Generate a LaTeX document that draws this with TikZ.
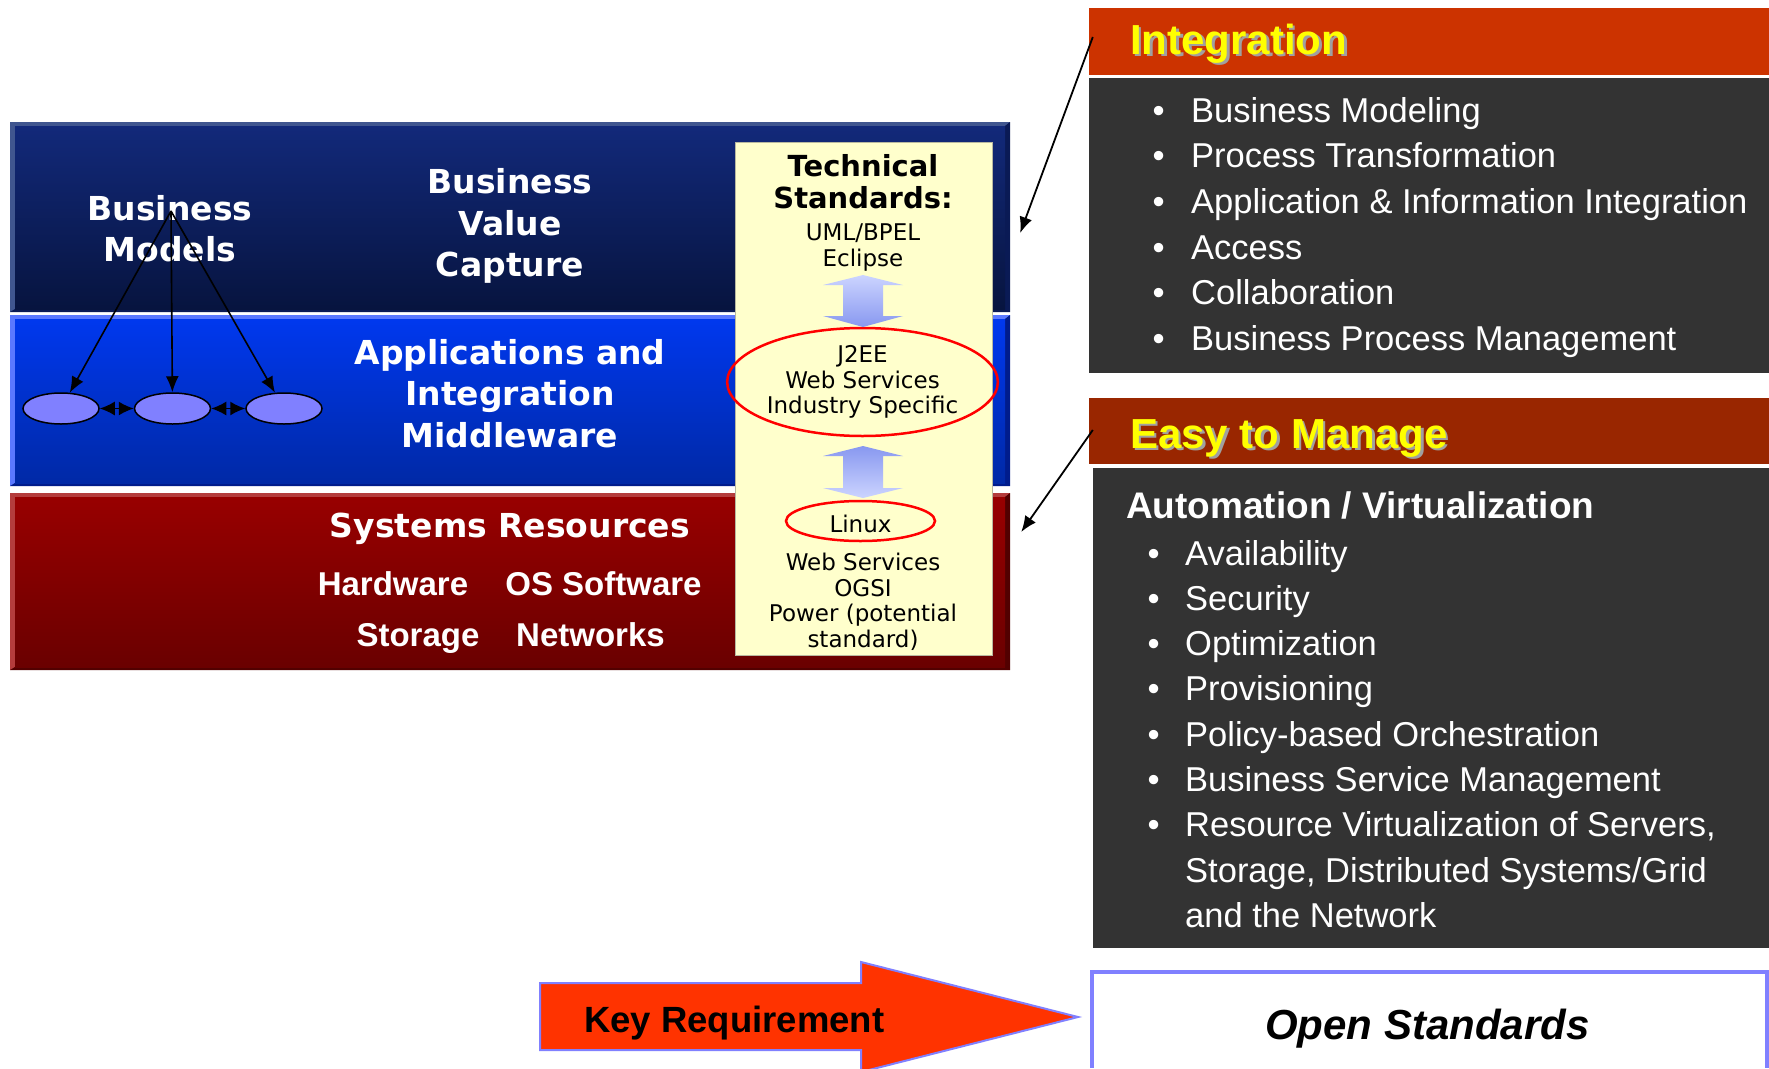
\documentclass[tikz,border=0pt]{standalone}
\usepackage{fontspec}
\setmainfont{Liberation Sans}
\newfontfamily\vfont{DejaVu Sans}
\usetikzlibrary{arrows.meta,positioning,shapes.geometric}

\definecolor{biztop}{HTML}{12297A}
\definecolor{bizbot}{HTML}{07143F}
\definecolor{bizlight}{HTML}{40568F}
\definecolor{bizdark}{HTML}{0A1A55}
\definecolor{apptop}{HTML}{0038EE}
\definecolor{appbot}{HTML}{0029A6}
\definecolor{applight}{HTML}{5A78FF}
\definecolor{appdark}{HTML}{001C8C}
\definecolor{systop}{HTML}{980000}
\definecolor{sysbot}{HTML}{6A0000}
\definecolor{syslight}{HTML}{B43C3C}
\definecolor{sysdark}{HTML}{520000}
\definecolor{techyellow}{HTML}{FFFFCC}
\definecolor{techedge}{HTML}{B8B8A0}
\definecolor{ringred}{HTML}{FF0000}
\definecolor{arrowlight}{HTML}{CCD4FF}
\definecolor{arrowdark}{HTML}{8898F0}
\definecolor{modelblue}{HTML}{8080FF}
\definecolor{inthead}{HTML}{CC3300}
\definecolor{mgmthead}{HTML}{992600}
\definecolor{panelgrey}{HTML}{333333}
\definecolor{titleyellow}{HTML}{FFFF00}
\definecolor{shadowgrey}{HTML}{A0A0A0}
\definecolor{keyorange}{HTML}{FF3300}
\definecolor{keyedge}{HTML}{8080FF}

\begin{document}
\begin{tikzpicture}[x=1pt,y=-1pt,>={Latex[length=16pt,width=13pt]},
  band/.style={inner sep=0pt,minimum width=990pt},
  bandtext/.style={text=white,inner sep=0pt,align=center,anchor=base,font=\vfont\bfseries\fontsize{33}{41.5}\selectfont},
  hwtext/.style={text=white,inner sep=0pt,anchor=base,font=\bfseries\fontsize{33}{40}\selectfont},
  model/.style={ellipse,draw=black,line width=1.5pt,fill=modelblue,minimum width=76pt,minimum height=31pt,inner sep=0pt},
  link/.style={->,line width=1.6pt},
  biarrow/.style={{Latex[length=15pt,width=14pt]}-{Latex[length=15pt,width=14pt]},line width=1.5pt},
  techtext/.style={inner sep=0pt,align=center,anchor=base,font=\vfont\fontsize{23}{25.5}\selectfont},
  ring/.style={ellipse,draw=ringred,line width=2.5pt,inner sep=0pt,font=\vfont\fontsize{23}{25.5}\selectfont,align=center},
  panel/.style={inner sep=0pt,minimum width=680pt},
  headtext/.style={inner sep=0pt,anchor=base west,font=\bfseries\fontsize{42}{50}\selectfont},
  itemlist/.style={inner sep=0pt,anchor=base west,align=left,text=white,font=\fontsize{34.5}{45.7}\selectfont},
  callout/.style={->,line width=1.8pt}]

  \path[use as bounding box,fill=white] (0,0) rectangle (1769,1068);

  % the three layers on the left
  \fill[bizlight] (10,122) rectangle (1010,312);
  \fill[bizdark] (1010,122) -- (1010,312) -- (10,312) -- (15,309) -- (1005,309) -- (1005,126) -- cycle;
  \node[band,minimum height=183pt,top color=biztop,bottom color=bizbot] (bizband) at (510,217.5) {};

  \fill[applight] (10,315) rectangle (1010,486);
  \fill[appdark] (1010,315) -- (1010,486) -- (10,486) -- (15,483) -- (1005,483) -- (1005,319) -- cycle;
  \node[band,minimum height=164pt,top color=apptop,bottom color=appbot] (appband) at (510,401) {};

  \fill[syslight] (10,493) rectangle (1010,670);
  \fill[sysdark] (1010,493) -- (1010,670) -- (10,670) -- (15,667) -- (1005,667) -- (1005,497) -- cycle;
  \node[band,minimum height=170pt,top color=systop,bottom color=sysbot] (sysband) at (510,582) {};

  % base of a multi-line node = its last line
  \node[bandtext] (bmtext) at (170,261.7) {Business\\Models};
  \node[bandtext] (bvtext) at (510,276.7) {Business\\Value\\Capture};
  \node[bandtext] (apptext) at (510,447.3) {Applications and\\Integration\\Middleware};
  \node[bandtext] (systext) at (510,537) {Systems Resources};
  \node[hwtext] (hwtext) at (393,595) {Hardware};
  \node[hwtext] (ostext) at (603.5,595) {OS Software};
  \node[hwtext] (sttext) at (418,646) {Storage};
  \node[hwtext] (nwtext) at (590.5,646) {Networks};

  % business models
  \node[model] (e1) at (61,408.5) {};
  \node[model] (e2) [right=34pt of e1] {};
  \node[model] (e3) [right=34pt of e2] {};
  \coordinate (bmtop) at (171,211);
  \draw[link] (bmtop) -- (e1);
  \draw[link] (bmtop) -- (e2);
  \draw[link] (bmtop) -- (e3);
  \draw[biarrow] (e1) -- (e2);
  \draw[biarrow] (e2) -- (e3);

  % technical standards
  \node[fill=techyellow,draw=techedge,line width=1pt,minimum width=257pt,minimum height=513pt,inner sep=0pt] (techbox) at (863.5,398.5) {};
  \node[techtext,font=\vfont\bfseries\fontsize{29}{32}\selectfont] (techtitle) at (863,208.5) {Technical\\Standards:};
  \node[techtext] (techtop) at (863,266) {UML/BPEL\\Eclipse};
  \node[ring,minimum width=249pt,minimum height=108pt] (j2ee) at (862.5,382) {J2EE\\Web Services\\Industry Specific};
  \node[ring,minimum width=149pt,minimum height=40pt,text height=22pt,text depth=0pt] (linux) at (860.5,521) {Linux};
  \node[techtext] (techlow) at (863,647) {Web Services\\OGSI\\Power (potential\\standard)};
  \shade[top color=arrowlight,bottom color=arrowdark] (863,275) -- (903,285) -- (883,285) -- (883,316) -- (903,316)
    -- (863,327) -- (823,316) -- (843,316) -- (843,285) -- (823,285) -- cycle;
  \shade[top color=arrowdark,bottom color=arrowlight] (863,446) -- (903,456) -- (883,456) -- (883,488) -- (903,488)
    -- (863,498) -- (823,488) -- (843,488) -- (843,456) -- (823,456) -- cycle;

  % integration panel
  \node[panel,fill=inthead,minimum height=68pt] (inthead) at (1429,42) {};
  \node[panel,fill=panelgrey,minimum height=295pt] (intbody) at (1429,225.5) {};
  \draw[white,line width=2pt] (inthead.south west) -- (inthead.south east);
  \node[headtext,text=shadowgrey] at (1132.5,56.5) {Integration};
  \node[headtext,text=titleyellow] (inttitle) at (1130,54) {Integration};
  \node[itemlist] (intlist) at (1152.5,350.5) {\makebox[38.5pt][l]{\textbullet}Business Modeling\\
    \makebox[38.5pt][l]{\textbullet}Process Transformation\\
    \makebox[38.5pt][l]{\textbullet}Application \& Information Integration\\
    \makebox[38.5pt][l]{\textbullet}Access\\
    \makebox[38.5pt][l]{\textbullet}Collaboration\\
    \makebox[38.5pt][l]{\textbullet}Business Process Management};

  % management panel
  \node[panel,fill=mgmthead,minimum height=67pt] (mgmthead) at (1429,431.5) {};
  \node[panel,fill=panelgrey,minimum width=676pt,minimum height=480pt] (mgmtbody) at (1431,708) {};
  \draw[white,line width=2pt] (mgmthead.south west) -- (mgmthead.south east);
  \node[headtext,text=shadowgrey] at (1132.5,450.5) {Easy to Manage};
  \node[headtext,text=titleyellow] (mgmttitle) at (1130,448) {Easy to Manage};
  \node[inner sep=0pt,anchor=base west,text=white,font=\bfseries\fontsize{37}{44}\selectfont] (autotitle) at (1126,518.6) {Automation / Virtualization};
  \node[itemlist,font=\fontsize{34.5}{45.3}\selectfont] (mgmtlist) at (1147.5,927.4) {\makebox[37.5pt][l]{\textbullet}Availability\\
    \makebox[37.5pt][l]{\textbullet}Security\\
    \makebox[37.5pt][l]{\textbullet}Optimization\\
    \makebox[37.5pt][l]{\textbullet}Provisioning\\
    \makebox[37.5pt][l]{\textbullet}Policy-based Orchestration\\
    \makebox[37.5pt][l]{\textbullet}Business Service Management\\
    \makebox[37.5pt][l]{\textbullet}Resource Virtualization of Servers,\\
    \makebox[37.5pt][l]{}Storage, Distributed Systems/Grid\\
    \makebox[37.5pt][l]{}and the Network};

  \draw[callout] ([shift={(4,-5)}]inthead.west) -- ([shift={(15,15.5)}]bizband.east);
  \draw[callout] ([shift={(4,-1.5)}]mgmthead.west) -- ([shift={(16,-50)}]sysband.east);

  % key requirement
  \filldraw[fill=keyorange,draw=keyedge,line width=2pt] (540,983) -- (861,983) -- (861,962) -- (1078,1017)
    -- (861,1072) -- (861,1050) -- (540,1050) -- cycle;
  \node[inner sep=0pt,anchor=base west,font=\bfseries\fontsize{36.5}{44}\selectfont] (keytext) at (584,1032) {Key Requirement};
  \draw[keyedge,line width=4.5pt] (1092,1068) -- (1092,972) -- (1767,972) -- (1767,1068);
  \node[inner sep=0pt,anchor=base west,font=\bfseries\itshape\fontsize{42}{50}\selectfont] (openstd) at (1265,1039) {Open Standards};
\end{tikzpicture}
\end{document}
